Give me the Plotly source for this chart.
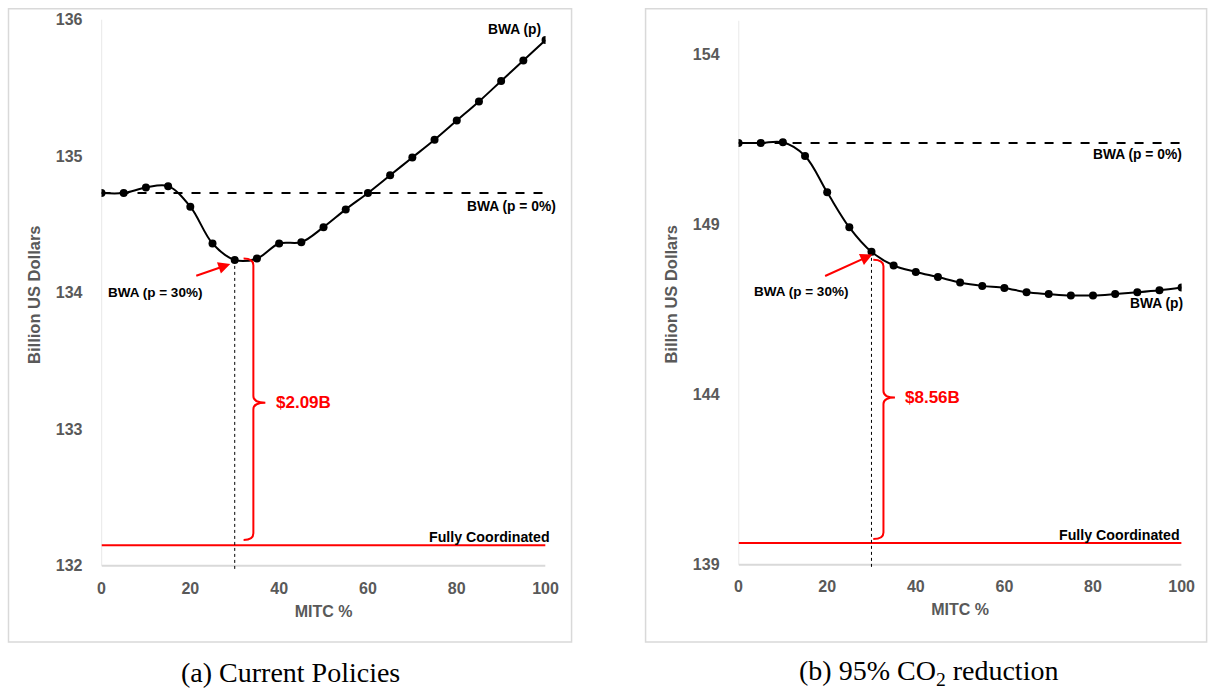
import plotly.graph_objects as go

# ---------------- data ----------------
mitc = [0, 5, 10, 15, 20, 25, 30, 35, 40, 45, 50, 55, 60, 65, 70, 75, 80, 85, 90, 95, 100]

bwa_current = [134.73, 134.73, 134.77, 134.78, 134.63, 134.36, 134.24, 134.25, 134.36, 134.37,
               134.48, 134.61, 134.73, 134.86, 134.99, 135.12, 135.26, 135.40, 135.55, 135.70, 135.85]
bwa0_current = 134.73
full_current = 132.15
gap_current = "$2.09B"

bwa_co2 = [151.40, 151.40, 151.42, 151.02, 149.95, 148.92, 148.20, 147.80, 147.61, 147.46,
           147.30, 147.20, 147.14, 147.01, 146.96, 146.92, 146.92, 146.96, 147.01, 147.07, 147.15]
bwa0_co2 = 151.40
full_co2 = 139.64
gap_co2 = "$8.56B"

x_ticks = [0, 20, 40, 60, 80, 100]
y_ticks_current = [132, 133, 134, 135, 136]
y_ticks_co2 = [139, 144, 149, 154]

captions = ["(a) Current Policies", "(b) 95% CO<sub>2</sub> reduction"]

# ---------------- layout helpers (screen px -> figure px) ----------------
SX, SY = 0.986, 0.979
OX, OY = 3.5, 8.5
W, H = 1223, 697
FONT = "Liberation Sans"
GRAY = "#595959"
AXIS_GRAY = "#d9d9d9"
RED = "#ff0000"

def px_x(p):
    return ((p - OX) / SX) / W

def px_y(p):
    return 1 - ((p - OY) / SY) / H

fig = go.Figure()

panels = [
    dict(xa="x", ya="y", xax="xaxis", yax="yaxis", vals=bwa_current, bwa0=bwa0_current,
         full=full_current, gap=gap_current, yticks=y_ticks_current,
         xdom=[px_x(101), px_x(545)], ydom=[px_y(569.1), px_y(20)], yr=[131.97, 136.0],
         ybase=132, ytop=136,
         brace_x=34.2, brace_tick=2.2, brace_mid=2.7, brace_top_off=-0.01, brace_bot_off=0.04,
         lbl30=(12.0, 134.0), arr_tail=(21.0, 134.12), arr_head=(29.0, 134.21),
         lblp=(99.5, 135.93, 0), lblp0=(134.63, 12), lblfull=(132.21, 6),
         gap_x=38.9),
    dict(xa="x2", ya="y2", xax="xaxis2", yax="yaxis2", vals=bwa_co2, bwa0=bwa0_co2,
         full=full_co2, gap=gap_co2, yticks=y_ticks_co2,
         xdom=[px_x(738), px_x(1181)], ydom=[px_y(567.4), px_y(21)], yr=[138.9, 155.0],
         ybase=139, ytop=155,
         brace_x=32.7, brace_tick=2.3, brace_mid=2.6, brace_top_off=0.23, brace_bot_off=0.12,
         lbl30=(14.0, 147.03), arr_tail=(19.2, 147.47), arr_head=(30.2, 148.12),
         lblp=(100.0, 146.68, 3), lblp0=(151.06, 2), lblfull=(139.88, 0),
         gap_x=37.2),
]

shapes = []
annotations = []
LBL = dict(family=FONT, size=13.8, color="black", weight="bold")

for k, p in enumerate(panels):
    xa, ya = p["xa"], p["ya"]
    fig.add_trace(go.Scatter(x=mitc, y=p["vals"], mode="lines+markers",
                             line=dict(color="black", width=2, shape="spline", smoothing=1.0),
                             marker=dict(color="black", size=8),
                             xaxis=xa, yaxis=ya, showlegend=False, hoverinfo="skip"))
    fig.add_trace(go.Scatter(x=[mitc[0], mitc[-1]], y=[p["bwa0"], p["bwa0"]], mode="lines",
                             line=dict(color="black", width=2, dash="dash"),
                             xaxis=xa, yaxis=ya, showlegend=False, hoverinfo="skip"))
    fig.add_trace(go.Scatter(x=[mitc[0], mitc[-1]], y=[p["full"], p["full"]], mode="lines",
                             line=dict(color=RED, width=2),
                             xaxis=xa, yaxis=ya, showlegend=False, hoverinfo="skip"))

    # axis lines
    shapes.append(dict(type="line", xref=xa, yref=ya, x0=mitc[0], x1=mitc[-1],
                       y0=p["ybase"], y1=p["ybase"], line=dict(color=AXIS_GRAY, width=2), layer="below"))
    shapes.append(dict(type="line", xref=xa, yref=ya, x0=mitc[0], x1=mitc[0],
                       y0=p["ybase"], y1=p["ytop"], line=dict(color=AXIS_GRAY, width=1.2), layer="below"))

    # dotted drop line at p = 30%
    i30 = mitc.index(30)
    v30 = p["vals"][i30]
    shapes.append(dict(type="line", xref=xa, yref=ya, x0=30, x1=30, y0=v30, y1=p["yr"][0],
                       line=dict(color="black", width=1, dash="dot")))

    # curly brace
    bx = p["brace_x"]
    t = bx - p["brace_tick"]
    top = v30 - p["brace_top_off"]
    bot = p["full"] + p["brace_bot_off"]
    mid = (v30 + p["full"]) / 2
    span = p["yr"][1] - p["yr"][0]
    c = span * 0.012
    path = (f"M {t},{top} Q {bx},{top} {bx},{top - c} "
            f"L {bx},{mid + c} Q {bx},{mid} {bx + p['brace_mid']},{mid} "
            f"Q {bx},{mid} {bx},{mid - c} "
            f"L {bx},{bot + c} Q {bx},{bot} {t},{bot}")
    shapes.append(dict(type="path", xref=xa, yref=ya, path=path,
                       line=dict(color=RED, width=2)))

    annotations.append(dict(xref=xa, yref=ya, x=p["gap_x"], y=mid, text=p["gap"],
                            showarrow=False, xanchor="left", yanchor="middle",
                            font=dict(family=FONT, size=17, color=RED, weight="bold")))
    annotations.append(dict(xref=xa, yref=ya, x=p["lbl30"][0], y=p["lbl30"][1], text="BWA (p = 30%)",
                            showarrow=False, xanchor="center", yanchor="middle",
                            font=dict(family=FONT, size=13.5, color="black", weight="bold")))
    annotations.append(dict(xref=xa, yref=ya, axref=xa, ayref=ya,
                            x=p["arr_head"][0], y=p["arr_head"][1],
                            ax=p["arr_tail"][0], ay=p["arr_tail"][1], text="",
                            showarrow=True, arrowhead=2, arrowsize=1.2, arrowwidth=2, arrowcolor=RED))
    annotations.append(dict(xref=xa, yref=ya, x=p["lblp"][0], y=p["lblp"][1], xshift=p["lblp"][2],
                            text="BWA (p)", showarrow=False, xanchor="right", yanchor="middle", font=LBL))
    annotations.append(dict(xref=xa, yref=ya, x=mitc[-1], y=p["lblp0"][0], xshift=p["lblp0"][1],
                            text="BWA (p = 0%)", showarrow=False, xanchor="right", yanchor="middle",
                            font=LBL))
    annotations.append(dict(xref=xa, yref=ya, x=mitc[-1], y=p["lblfull"][0], xshift=p["lblfull"][1],
                            text="Fully Coordinated", showarrow=False, xanchor="right", yanchor="middle",
                            font=dict(family=FONT, size=14.2, color="black", weight="bold")))

    fig.layout[p["xax"]] = dict(domain=p["xdom"], range=[0, 100], tickvals=x_ticks,
                                showline=False, showgrid=False, zeroline=False, ticks="",
                                ticklabelstandoff=7, anchor=ya,
                                tickfont=dict(family=FONT, size=16, color=GRAY, weight="bold"),
                                title=dict(text="MITC %", standoff=9,
                                           font=dict(family=FONT, size=16, color=GRAY, weight="bold")))
    fig.layout[p["yax"]] = dict(domain=p["ydom"], range=p["yr"], tickvals=p["yticks"],
                                showline=False, showgrid=False, zeroline=False, ticks="",
                                ticklabelstandoff=18, anchor=xa,
                                tickfont=dict(family=FONT, size=16, color=GRAY, weight="bold"),
                                title=dict(text="Billion US Dollars", standoff=11,
                                           font=dict(family=FONT, size=16.5, color=GRAY, weight="bold")))

# panel frames
top_edge = 1 - 0.8 / H
shapes.append(dict(type="rect", xref="paper", yref="paper", x0=px_x(8), x1=px_x(571),
                   y0=px_y(641), y1=top_edge, line=dict(color=AXIS_GRAY, width=1.5), layer="below"))
shapes.append(dict(type="rect", xref="paper", yref="paper", x0=px_x(645), x1=px_x(1206),
                   y0=px_y(641), y1=top_edge, line=dict(color=AXIS_GRAY, width=1.5), layer="below"))

for cx, txt in zip([px_x(290), px_x(928)], captions):
    annotations.append(dict(xref="paper", yref="paper", x=cx, y=px_y(671), text=txt,
                            showarrow=False, xanchor="center", yanchor="middle",
                            font=dict(family="Liberation Serif", size=28, color="black")))

fig.update_layout(width=W, height=H, margin=dict(l=0, r=0, t=0, b=0),
                  paper_bgcolor="white", plot_bgcolor="white",
                  shapes=shapes, annotations=annotations, showlegend=False)

fig.write_html("out.html")
